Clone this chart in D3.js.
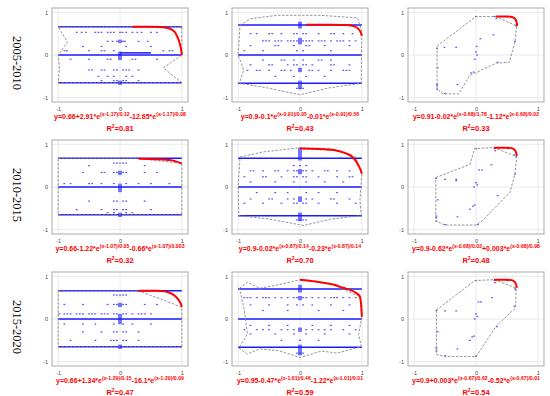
<!DOCTYPE html>
<html><head><meta charset="utf-8">
<script src="https://cdn.jsdelivr.net/npm/d3@7"></script>
<style>body{margin:0;background:#fff}svg{display:block}</style>
</head><body>
<svg id="chart" width="550" height="396"></svg>
<script>
const rowLabels = ["2005-2010", "2010-2015", "2015-2020"];
const axisTicks = [-1, 0, 1];

// equation parts: alternating normal text / superscript text
const equations = [
  ["y=0.66+2.91*e", "(x-1.17)/0.12", "-12.65*e", "(x-1.17)/0.08"],
  ["y=0.9-0.1*e", "(x-0.91)/0.05", "-0.01*e", "(x-0.91)/0.56"],
  ["y=0.91-0.02*e", "(x-0.68)/1.78", "-1.12*e", "(x-0.68)/0.02"],
  ["y=0.66-1.22*e", "(x-1.07)/0.05", "-0.66*e", "(x-1.07)/0.003"],
  ["y=0.9-0.02*e", "(x-0.87)/0.14", "-0.23*e", "(x-0.87)/0.14"],
  ["y=0.9-0.62*e", "(x-0.68)/0.02", "+0.003*e", "(x-0.68)/0.98"],
  ["y=0.66+1.34*e", "(x-1.29)/0.15", "-16.1*e", "(x-1.29)/0.09"],
  ["y=0.95-0.47*e", "(x-1.01)/0.46", "-1.22*e", "(x-1.01)/0.01"],
  ["y=0.9+0.003*e", "(x-0.67)/0.62", "-0.52*e", "(x-0.67)/0.01"]
];
const r2Values = ["0.81", "0.43", "0.33", "0.32", "0.70", "0.48", "0.47", "0.59", "0.54"];

// fitted red curves [x, y]
const fitCurves = [
  [[0.2,0.66],[0.5,0.66],[0.7,0.65],[0.8,0.62],[0.87,0.56],[0.92,0.45],[0.96,0.3],[0.99,0.12],[1.0,0.0]],
  [[0.1,0.71],[0.5,0.71],[0.75,0.7],[0.88,0.67],[0.95,0.6],[0.99,0.5],[1.0,0.45]],
  [[0.32,0.9],[0.5,0.9],[0.58,0.89],[0.63,0.85],[0.655,0.78],[0.665,0.68]],
  [[0.3,0.66],[0.6,0.65],[0.8,0.63],[0.9,0.6],[1.0,0.55]],
  [[0,0.9],[0.3,0.89],[0.5,0.87],[0.65,0.83],[0.79,0.76],[0.88,0.65],[0.94,0.52],[0.98,0.4],[1.0,0.31]],
  [[0.29,0.92],[0.5,0.92],[0.6,0.9],[0.64,0.84],[0.66,0.72]],
  [[0.3,0.66],[0.6,0.66],[0.75,0.64],[0.86,0.57],[0.93,0.48],[0.97,0.4],[1.0,0.28]],
  [[0,0.92],[0.25,0.88],[0.5,0.82],[0.7,0.73],[0.83,0.67],[0.92,0.6],[0.97,0.52],[0.99,0.32],[1.0,0.05]],
  [[0.29,0.92],[0.5,0.92],[0.6,0.9],[0.64,0.84],[0.66,0.73]]
];

// dashed boundary polygons [x, y]
const hulls = [
  [[-1,0.66],[1,0.66],[1,0],[0.7,-0.3],[1,-0.65],[-1,-0.65],[-0.98,-0.3],[-1,0],[-0.85,0.3],[-1,0.66]],
  [[-0.97,0.7],[-0.8,0.85],[-0.36,0.93],[0.3,0.93],[0.93,0.87],[1.0,0.55],[0.99,-0.66],[0.47,-0.77],[0,-0.93],[-0.53,-0.77],[-0.98,-0.66],[-0.91,-0.35],[-1,0],[-0.97,0.7]],
  [[-0.63,0.21],[0,0.9],[0.32,0.9],[0.66,0.68],[0.63,0.32],[0.54,-0.17],[0.33,-0.19],[-0.1,-0.48],[-0.28,-0.91],[-0.53,-0.91],[-0.63,-0.8],[-0.63,0.21]],
  [[-1,0.67],[0.3,0.67],[1,0.55],[1,-0.65],[-1,-0.65],[-1,0.67]],
  [[-0.97,0.7],[-0.6,0.82],[0,0.92],[0.5,0.9],[0.9,0.7],[1,0.31],[0.97,-0.3],[0.99,-0.67],[0.5,-0.75],[0.06,-0.9],[-0.5,-0.75],[-0.99,-0.67],[-1,0],[-0.97,0.7]],
  [[-0.65,0.22],[-0.1,0.53],[-0.02,0.9],[0.29,0.92],[0.66,0.71],[0.63,0.3],[0.55,-0.12],[0.11,-0.78],[0,-0.89],[-0.5,-0.89],[-0.65,-0.8],[-0.65,0.22]],
  [[-1,0.66],[0.3,0.66],[1,0.28],[1,-0.65],[-1,-0.65],[-1,0.66]],
  [[-0.98,0.72],[-0.85,0.86],[-0.65,0.72],[-0.35,0.8],[0,0.92],[0.5,0.82],[0.97,0.52],[1,0.05],[0.95,-0.35],[0.99,-0.65],[0.85,-0.7],[0.6,-0.8],[0.35,-0.75],[0,-0.9],[-0.35,-0.74],[-0.65,-0.7],[-0.85,-0.82],[-0.99,-0.68],[-0.85,-0.35],[-0.9,0.2],[-0.98,0.72]],
  [[-0.64,0.21],[-0.02,0.9],[0.29,0.92],[0.65,0.73],[0.64,0.26],[0.33,-0.16],[0,-0.88],[-0.51,-0.88],[-0.64,-0.83],[-0.64,0.21]]
];

// dense rows of points [y, xStart, xEnd]
const denseRows = [
  [[0.66,-1,1],[0,-1,1],[-0.65,-1,1],[0.05,0,0.5]],
  [[0.7,-1,1],[0,-1,1],[-0.66,-1,1]],
  [],
  [[0.67,-1,1],[0,-1,1],[-0.65,-1,1]],
  [[0.67,-1,1],[0,-1,1],[-0.67,-1,1]],
  [],
  [[0.66,-1,1],[0,-1,1],[-0.65,-1,1]],
  [[0.7,-1,1],[0,-1,1],[-0.66,-1,1]],
  []
];
// dense columns of points [x, yStart, yEnd]
const denseCols = [
  [[0,-0.12,0.08],[0,-0.7,-0.6],[0,0.28,0.36]],
  [[0,0.62,0.78],[0,0.25,0.4],[0,-0.4,-0.3],[0,-0.8,-0.6]],
  [],
  [[0,-0.12,0.08],[0,-0.7,-0.6],[0,0.28,0.38]],
  [[0,0.62,0.92],[0,0.3,0.42],[0,-0.35,-0.22],[0,-0.8,-0.6]],
  [],
  [[0,-0.12,0.12],[0,-0.7,-0.6],[0,0.28,0.38]],
  [[0,0.62,0.8],[0,0.44,0.54],[0,-0.3,-0.2],[0,-0.85,-0.6]],
  []
];
// sparse rows of points [y, [x values]]
const sparseRows = [
  [[0.53,[-0.7,-0.62,-0.55,-0.4,-0.35,-0.3,-0.2,-0.15,-0.1,0,0.04,0.1,0.2,0.28,0.35,0.5,0.6]],[0.32,[-0.2,-0.12,-0.05,0.05,0.08,0.3,0.45]],[0.2,[-0.6,-0.3,0.1,0.5]],
   [0.1,[-0.9,-0.86,-0.5,-0.3,-0.25,-0.1,0.7,0.8,0.85]],[-0.1,[-0.8,-0.5,-0.2,-0.15,0.2,0.25,0.6]],[-0.35,[-0.5,-0.45,-0.3,-0.25,-0.1,-0.05,0.05,0.1,0.15,0.3]],[-0.5,[-0.35,-0.2,-0.1,0.1,0.2]],
   [-0.6,[-0.3,-0.1,-0.05,0.05,0.1,0.3]]],
  [[0.5,[-0.8,-0.7,-0.5,-0.45,-0.3,-0.1,-0.05,0.05,0.1,0.3,0.5,0.55,0.7,0.85]],[0.33,[-0.6,-0.55,-0.5,-0.4,-0.35,-0.3,-0.2,-0.15,-0.1,-0.05,0.05,0.1,0.15,0.2,0.3,0.35,0.4,0.5,0.6,0.65,0.7,0.8,0.9]],
   [0.22,[-0.8,-0.4,-0.35,-0.1,0.1,0.15,0.4,0.8]],[0.1,[-0.9,-0.6,-0.05,0.05,0.5]],
   [-0.12,[-0.6,-0.3,-0.25,-0.1,0.05,0.3,0.35,0.5]],[-0.23,[-0.8,-0.5,-0.45,-0.2,-0.1,-0.05,0.05,0.1,0.2,0.5,0.55,0.8]],
   [-0.36,[-0.85,-0.7,-0.65,-0.5,-0.3,-0.25,-0.15,0.15,0.2,0.3,0.5,0.7,0.75,0.8]],[-0.5,[-0.4,-0.1,0.1,0.4]],[-0.78,[-0.05,0,0.05]]],
  [],
  [[0.56,[-0.1,-0.05,0,0.05,0.1]],[0.5,[-0.5,0.4]],[0.34,[-0.6,-0.3,-0.25,-0.1,-0.05,0.05,0.1,0.4,0.6]],[0.08,[-0.9,-0.8,-0.5,-0.45,-0.3,-0.1,0.1,0.3,0.5,0.8]],
   [-0.33,[-0.5,-0.1,-0.05,0.05,0.1,0.4]],[-0.53,[-0.7,-0.3,-0.1,-0.05,0.05,0.1,0.5]],[-0.6,[-0.2,-0.1,0.1,0.2]]],
  [[0.5,[-0.1,0,0.1]],[0.38,[-0.8,-0.75,-0.6,-0.4,-0.35,-0.2,-0.1,-0.05,0.05,0.1,0.2,0.4,0.45,0.6,0.8]],[0.24,[-0.9,-0.6,-0.55,-0.3,-0.1,-0.05,0.05,0.1,0.3,0.6,0.8,0.85]],[0.12,[-0.8,-0.4,-0.1,0.1,0.4,0.7]],
   [-0.13,[-0.7,-0.4,-0.2,0.1,0.3,0.6]],[-0.28,[-0.8,-0.5,-0.45,-0.2,-0.1,0.1,0.2,0.5,0.55,0.8]],[-0.38,[-0.9,-0.6,-0.3,-0.1,-0.05,0.05,0.1,0.3,0.6,0.9]],[-0.77,[-0.05,0,0.05,0.1]]],
  [],
  [[0.56,[-0.1,-0.05,0,0.05,0.1]],[0.34,[-0.9,-0.6,-0.2,-0.1,-0.05,0.05,0.1,0.4,0.6]],
   [0.12,[-0.98,-0.9,-0.85,-0.8,-0.7,-0.65,-0.6,-0.5,-0.45,-0.4,-0.3,-0.25,-0.2,-0.1,-0.05,0.05,0.1,0.2,0.3,0.35,0.4,0.5]],
   [-0.12,[-0.9,-0.6,-0.4,-0.1,0.05,0.2,0.5]],[-0.3,[-0.6,-0.3,-0.1,-0.05,0.05,0.1,0.3]],[-0.5,[-0.8,-0.4,-0.15,-0.1,-0.05,0.05,0.1,0.3]]],
  [[0.5,[-0.9,-0.85,-0.8,-0.7,-0.6,-0.55,-0.5,-0.4,-0.3,-0.2,-0.1,-0.05,0.05,0.1,0.2,0.3,0.4,0.5,0.55,0.6,0.7,0.8,0.9]],[0.33,[-0.8,-0.5,-0.2,-0.05,0.05,0.2,0.5,0.8]],[0.2,[-0.6,-0.2,0.3,0.7]],
   [-0.15,[-0.8,-0.5,-0.2,0.2,0.5,0.8]],[-0.25,[-0.9,-0.7,-0.6,-0.5,-0.3,-0.2,-0.1,0.1,0.2,0.3,0.4,0.5,0.7,0.9]],[-0.35,[-0.8,-0.4,-0.1,0.1,0.4,0.8]],[-0.5,[-0.3,0,0.3]],[-0.8,[-0.05,0,0.05]]],
  []
];
// individual points [x, y]
const singleDots = [
  [],[],
  [[-0.51,0.18],[-0.32,0.18],[0,0.9],[0.28,0.47],[0.07,0.38],[0.01,0.2],[0,0.07],[0.02,0],[-0.02,-0.1],[-0.04,-0.4],[-0.08,-0.42],[-0.3,-0.69],[-0.63,-0.68],[-0.63,-0.72],[-0.63,-0.8],[-0.62,-0.3],[-0.5,-0.9],[0.35,-0.17],[0.63,0.32],[0.65,0.68],[0.65,0.7],[0.52,0.9],[0.3,0.9],[0.33,0.85],[-0.63,0.15]],
  [],[],
  [[-0.65,0.2],[-0.5,0.18],[-0.32,0.18],[-0.32,0.15],[0,0.9],[0.3,0.9],[0.31,0.85],[0.52,0.9],[0.62,0.75],[0.65,0.7],[0.25,0.52],[0.1,0.4],[0.05,0.4],[0,0.1],[0.02,0.05],[-0.03,0],[0.35,-0.2],[-0.02,-0.42],[-0.05,-0.45],[-0.1,-0.52],[-0.3,-0.7],[-0.64,-0.68],[-0.64,-0.72],[-0.64,-0.8],[-0.62,-0.3],[-0.5,-0.88],[0.03,-0.88],[0.63,0.3]],
  [],[],
  [[-0.64,0.2],[-0.5,0.19],[-0.32,0.19],[0,0.9],[0.3,0.9],[0.31,0.85],[0.5,0.9],[0.63,0.72],[0.64,0.68],[0.26,0.5],[0.08,0.4],[0.04,0.4],[0,0.12],[0.02,0.06],[-0.02,0],[0.34,-0.18],[-0.03,-0.4],[-0.06,-0.42],[-0.1,-0.5],[-0.3,-0.7],[-0.64,-0.66],[-0.64,-0.7],[-0.64,-0.75],[-0.62,-0.3],[-0.5,-0.86],[0,-0.87],[0.62,0.3]]
];

const svg = d3.select("#chart");
const colLeft = [52, 232, 408], rowTop = [8, 140, 272];
const W = 136, H = 94;
const blue = "#1a1aff";

rowLabels.forEach((lab, r) => {
  svg.append("text")
    .attr("transform", `translate(13,${rowTop[r] + H / 2 + 8}) rotate(90)`)
    .attr("text-anchor", "middle")
    .attr("font-family", "Liberation Serif, Times New Roman, serif")
    .attr("font-size", 12.5)
    .attr("fill", "#000")
    .text(lab);
});

for (let i = 0; i < 9; i++) {
  const r = Math.floor(i / 3), c = i % 3;
  const g = svg.append("g").attr("transform", `translate(${colLeft[c]},${rowTop[r]})`);
  const x = d3.scaleLinear().domain([-1.1, 1.1]).range([0, W]);
  const y = d3.scaleLinear().domain([-1.1, 1.1]).range([H, 0]);

  // grid
  g.selectAll(".gx").data(axisTicks).join("line")
    .attr("x1", d => x(d)).attr("x2", d => x(d)).attr("y1", 0).attr("y2", H)
    .attr("stroke", "#e4e4e4").attr("stroke-width", 0.8);
  g.selectAll(".gy").data(axisTicks).join("line")
    .attr("y1", d => y(d)).attr("y2", d => y(d)).attr("x1", 0).attr("x2", W)
    .attr("stroke", "#e4e4e4").attr("stroke-width", 0.8);

  // axes
  const ax = g.append("g").attr("transform", `translate(0,${H})`)
    .call(d3.axisBottom(x).tickValues(axisTicks).tickSize(0).tickPadding(5).tickFormat(d => String(d)));
  const ay = g.append("g")
    .call(d3.axisLeft(y).tickValues(axisTicks).tickSize(0).tickPadding(4).tickFormat(d => String(d)));
  [ax, ay].forEach(a => {
    a.select(".domain").remove();
    a.selectAll("text").attr("font-size", 5.5).attr("fill", "#444").attr("font-family", "Liberation Sans, Arial, sans-serif");
  });

  // dense rows
  g.selectAll(".dr").data(denseRows[i]).join("line")
    .attr("x1", d => x(d[1])).attr("x2", d => x(d[2])).attr("y1", d => y(d[0])).attr("y2", d => y(d[0]))
    .attr("stroke", blue).attr("stroke-width", 1.5);
  g.selectAll(".dc").data(denseCols[i]).join("rect")
    .attr("x", d => x(d[0]) - 2).attr("width", 4)
    .attr("y", d => y(d[2])).attr("height", d => y(d[1]) - y(d[2]))
    .attr("fill", blue).attr("opacity", 0.6);
  const pts = [];
  sparseRows[i].forEach(([yy, xs]) => xs.forEach(xx => pts.push([xx, yy])));
  singleDots[i].forEach(p => pts.push(p));
  g.selectAll(".pt").data(pts).join("rect")
    .attr("x", d => x(d[0]) - 0.9).attr("y", d => y(d[1]) - 0.6)
    .attr("width", 1.8).attr("height", 1.2).attr("fill", blue).attr("opacity", 0.75);

  // hull
  g.append("path").datum(hulls[i])
    .attr("d", d3.line().x(d => x(d[0])).y(d => y(d[1])))
    .attr("fill", "none").attr("stroke", "#888").attr("stroke-width", 0.9).attr("stroke-dasharray", "2.5,1.5");

  // fitted curve
  g.append("path").datum(fitCurves[i])
    .attr("d", d3.line().x(d => x(d[0])).y(d => y(d[1])).curve(d3.curveMonotoneY))
    .attr("fill", "none").attr("stroke", "#f00").attr("stroke-width", 2);

  // frame
  g.append("rect").attr("width", W).attr("height", H)
    .attr("fill", "none").attr("stroke", "#aaa").attr("stroke-width", 1);

  // equation
  const eq = g.append("text").attr("x", W / 2).attr("y", H + 17)
    .attr("text-anchor", "middle").attr("fill", "#f00").attr("font-weight", "bold")
    .attr("font-family", "Liberation Sans, Arial, sans-serif").attr("font-size", 7);
  equations[i].forEach((part, k) => {
    const sup = k % 2 === 1;
    const t = eq.append("tspan").text(part).attr("font-size", sup ? 5.2 : 7);
    if (sup) t.attr("dy", -3);
    else if (k > 0) t.attr("dy", 3);
  });
  const rt = g.append("text").attr("x", W / 2).attr("y", H + 28.5)
    .attr("text-anchor", "middle").attr("fill", "#f00").attr("font-weight", "bold")
    .attr("font-family", "Liberation Sans, Arial, sans-serif").attr("font-size", 7.5);
  rt.append("tspan").text("R");
  rt.append("tspan").text("2").attr("font-size", 5).attr("dy", -3);
  rt.append("tspan").text("=" + r2Values[i]).attr("dy", 3);
}
</script>
</body></html>
